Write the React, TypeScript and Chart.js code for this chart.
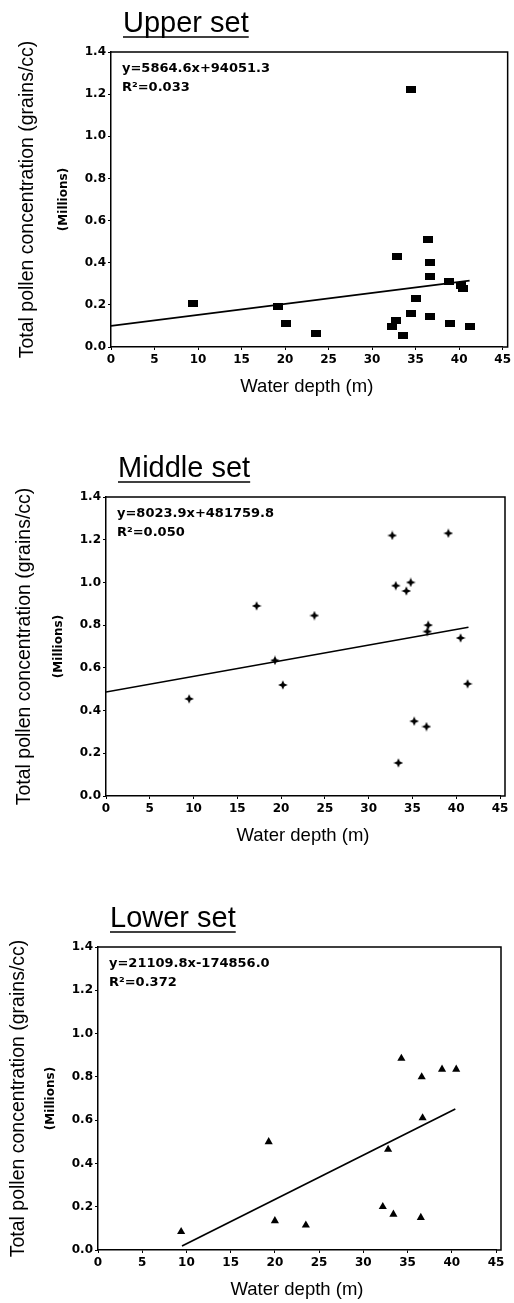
import React, { useEffect, useRef } from "react";
import { Chart, registerables } from "chart.js";

Chart.register(...registerables);

// ---------- data ----------
const xTickStep = 5;
const yTickStep = 0.2;

const upperDepth = [9.4, 19.2, 20.1, 23.5, 32.3, 32.7, 32.9, 33.5, 34.5, 34.5, 35.1, 36.4, 36.6, 36.7, 36.6, 38.8, 38.9, 40.2, 40.4, 41.2];
const upperConc = [0.205, 0.19, 0.11, 0.065, 0.095, 0.125, 0.43, 0.055, 0.16, 1.22, 0.23, 0.51, 0.4, 0.335, 0.145, 0.31, 0.11, 0.29, 0.28, 0.095];
const upperTrendDepth = [0, 41.2];
const upperTrendConc = [0.1, 0.315];

const middleDepth = [9.5, 17.2, 19.3, 20.2, 23.8, 32.7, 33.1, 33.4, 34.3, 34.8, 35.2, 36.6, 36.8, 36.7, 39.1, 40.5, 41.3];
const middleConc = [0.455, 0.89, 0.635, 0.52, 0.845, 1.22, 0.985, 0.155, 0.96, 1.0, 0.35, 0.325, 0.8, 0.77, 1.23, 0.74, 0.525];
const middleTrendDepth = [0, 41.4];
const middleTrendConc = [0.487, 0.79];

const lowerDepth = [9.4, 19.3, 20.0, 23.5, 32.2, 32.8, 33.4, 34.3, 36.5, 36.6, 36.7, 38.9, 40.5];
const lowerConc = [0.085, 0.5, 0.135, 0.115, 0.2, 0.465, 0.165, 0.885, 0.15, 0.8, 0.61, 0.835, 0.835];
const lowerTrendDepth = [9.5, 40.4];
const lowerTrendConc = [0.018, 0.652];

const titles = ["Upper set", "Middle set", "Lower set"];
const equations = ["y=5864.6x+94051.3", "y=8023.9x+481759.8", "y=21109.8x-174856.0"];
const rSquared = ["R\u00B2=0.033", "R\u00B2=0.050", "R\u00B2=0.372"];

const xAxisTitle = "Water depth (m)";
const yAxisTitle = "Total pollen concentration (grains/cc)";
const yAxisSubTitle = "(Millions)";

// ---------- layout ----------
type Marker = "rect" | "star" | "triangle";
interface PanelLayout {
  canvasTop: number;
  height: number;
  left: number;
  right: number;
  top: number;
  bottom: number;
  yTitleX: number;
  marker: Marker;
}

const layouts: PanelLayout[] = [
  { canvasTop: 0, height: 420, left: 111, right: 503, top: 52, bottom: 347, yTitleX: 28, marker: "rect" },
  { canvasTop: 420, height: 440, left: 106, right: 500, top: 497, bottom: 796, yTitleX: 25, marker: "star" },
  { canvasTop: 860, height: 443, left: 98, right: 496, top: 947, bottom: 1250, yTitleX: 19, marker: "triangle" },
];

const series = [
  { depth: upperDepth, conc: upperConc, tDepth: upperTrendDepth, tConc: upperTrendConc },
  { depth: middleDepth, conc: middleConc, tDepth: middleTrendDepth, tConc: middleTrendConc },
  { depth: lowerDepth, conc: lowerConc, tDepth: lowerTrendDepth, tConc: lowerTrendConc },
];

const X_AXIS_HEIGHT = 51;
const X_TITLE_SIZE = 18.5;
const Y_TITLE_SIZE = 19.5;

function makeRectMarker(): HTMLCanvasElement {
  const c = document.createElement("canvas");
  c.width = 10;
  c.height = 7;
  const g = c.getContext("2d")!;
  g.fillStyle = "#000";
  g.fillRect(0, 0, 10, 7);
  return c;
}

function makeStarMarker(): HTMLCanvasElement {
  const c = document.createElement("canvas");
  c.width = 10;
  c.height = 10;
  const g = c.getContext("2d")!;
  const cx = 5, cy = 5;
  g.fillStyle = "#000";
  g.beginPath();
  g.moveTo(cx, cy - 4.8);
  g.lineTo(cx + 1.4, cy - 1.4);
  g.lineTo(cx + 4.8, cy);
  g.lineTo(cx + 1.4, cy + 1.4);
  g.lineTo(cx, cy + 4.8);
  g.lineTo(cx - 1.4, cy + 1.4);
  g.lineTo(cx - 4.8, cy);
  g.lineTo(cx - 1.4, cy - 1.4);
  g.closePath();
  g.fill();
  return c;
}

const decorPlugin = {
  id: "decor",
  afterDraw(chart: any, _args: any, opts: any) {
    const { ctx, chartArea: a } = chart;
    ctx.save();
    ctx.strokeStyle = "#000";
    ctx.lineWidth = 1.5;
    ctx.beginPath();
    ctx.moveTo(a.left, a.top);
    ctx.lineTo(a.right + 5, a.top);
    ctx.lineTo(a.right + 5, a.bottom);
    ctx.lineTo(a.right, a.bottom);
    ctx.stroke();

    // panel title, underlined
    ctx.fillStyle = "#000";
    ctx.textAlign = "left";
    ctx.textBaseline = "alphabetic";
    ctx.font = '29px "Liberation Sans", Arial, sans-serif';
    const tx = a.left + 12;
    const ty = a.top - 20;
    ctx.fillText(opts.title, tx, ty);
    const tw = ctx.measureText(opts.title).width;
    ctx.lineWidth = 1.5;
    ctx.beginPath();
    ctx.moveTo(tx, ty + 5);
    ctx.lineTo(tx + tw, ty + 5);
    ctx.stroke();

    // regression text
    ctx.font = 'bold 13px "DejaVu Sans", sans-serif';
    ctx.fillText(opts.eq, a.left + 11, a.top + 20);
    ctx.fillText(opts.r2, a.left + 11, a.top + 39);

    // (Millions)
    ctx.translate(a.left - 47, (a.top + a.bottom) / 2);
    ctx.rotate(-Math.PI / 2);
    ctx.textAlign = "center";
    ctx.textBaseline = "middle";
    ctx.font = 'bold 12px "DejaVu Sans", sans-serif';
    ctx.fillText(opts.sub, 0, 0);
    ctx.restore();
  },
};

function Panel({ idx }: { idx: number }) {
  const ref = useRef<HTMLCanvasElement | null>(null);
  const L = layouts[idx];
  const S = series[idx];

  useEffect(() => {
    if (!ref.current) return;
    let pointStyle: any = "triangle";
    const radius = 4.7;
    if (L.marker === "rect") pointStyle = makeRectMarker();
    if (L.marker === "star") pointStyle = makeStarMarker();

    const pts = S.depth.map((d, i) => ({ x: d, y: S.conc[i] }));
    const trend = S.tDepth.map((d, i) => ({ x: d, y: S.tConc[i] }));
    const tickFont = { family: '"DejaVu Sans", sans-serif', weight: "bold" as const, size: 12 };
    const xTitleFont = { family: '"Liberation Sans", Arial, sans-serif', size: X_TITLE_SIZE };
    const yTitleFont = { family: '"Liberation Sans", Arial, sans-serif', size: Y_TITLE_SIZE };
    const halfLine = (Y_TITLE_SIZE * 1.2) / 2;

    const chart = new Chart(ref.current, {
      type: "scatter",
      data: {
        datasets: [
          {
            data: trend,
            showLine: true,
            borderColor: "#000",
            borderWidth: 1.7,
            pointRadius: 0,
            fill: false,
          } as any,
          {
            data: pts,
            pointStyle,
            pointRadius: radius,
            backgroundColor: "#000",
            borderColor: "#000",
            borderWidth: 0,
          } as any,
        ],
      },
      options: {
        animation: false,
        responsive: false,
        devicePixelRatio: 1,
        events: [],
        layout: {
          padding: {
            top: L.top - L.canvasTop,
            left: 0,
            right: 514 - L.right,
            bottom: L.height - (L.bottom - L.canvasTop) - X_AXIS_HEIGHT,
          },
        },
        plugins: {
          legend: { display: false },
          tooltip: { enabled: false },
          decor: { title: titles[idx], eq: equations[idx], r2: rSquared[idx], sub: yAxisSubTitle },
        } as any,
        scales: {
          x: {
            type: "linear",
            min: 0,
            max: 45,
            ticks: { stepSize: xTickStep, color: "#000", font: tickFont, padding: 3, maxRotation: 0, autoSkip: false },
            grid: { display: true, drawOnChartArea: false, drawTicks: true, tickLength: 3, color: "#000", lineWidth: 1 },
            border: { display: true, color: "#000", width: 1.5 },
            title: { display: true, text: xAxisTitle, color: "#000", font: xTitleFont, padding: { top: 0, bottom: 0 } },
            afterFit: (s: any) => {
              s.height = X_AXIS_HEIGHT;
            },
          },
          y: {
            type: "linear",
            min: 0,
            max: 1.4,
            ticks: {
              stepSize: yTickStep,
              color: "#000",
              font: tickFont,
              padding: 2,
              callback: (v: any) => Number(v).toFixed(1),
            },
            grid: { display: true, drawOnChartArea: false, drawTicks: true, tickLength: 3, color: "#000", lineWidth: 1 },
            border: { display: true, color: "#000", width: 1.5 },
            title: {
              display: true,
              text: yAxisTitle,
              color: "#000",
              font: yTitleFont,
              padding: { top: L.yTitleX - halfLine, bottom: 0 },
            },
            afterFit: (s: any) => {
              s.width = L.left;
            },
          },
        },
      },
      plugins: [decorPlugin],
    });
    return () => chart.destroy();
  }, [idx]);

  return (
    <canvas
      ref={ref}
      width={514}
      height={L.height}
      style={{ position: "absolute", left: 0, top: L.canvasTop, width: 514, height: L.height, display: "block" }}
    />
  );
}

export default function App() {
  return (
    <div style={{ position: "absolute", left: 0, top: 0, width: 514, height: 1303, background: "#fff", overflow: "hidden" }}>
      {layouts.map((_, i) => (
        <Panel key={i} idx={i} />
      ))}
    </div>
  );
}
